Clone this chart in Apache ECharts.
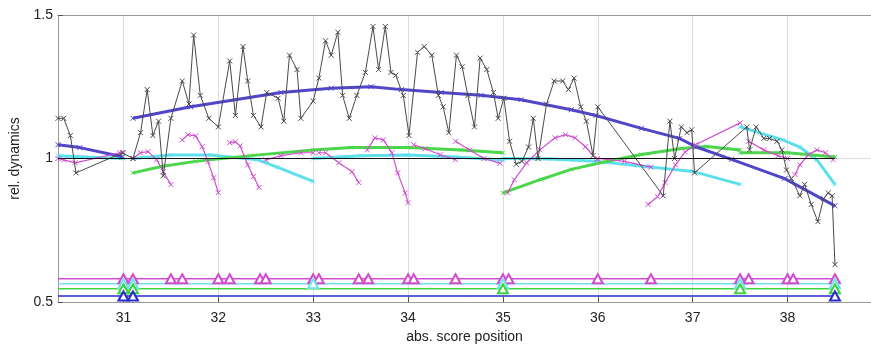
<!DOCTYPE html>
<html>
<head>
<meta charset="utf-8">
<script src="https://cdn.jsdelivr.net/npm/echarts@6/dist/echarts.min.js"></script>
<style>
html, body { margin: 0; padding: 0; background: #fff; }
#chart { width: 871px; height: 349px; }
</style>
</head>
<body>
<div id="chart"></div>
<script>
// axis range
var xMin = 30.31, xMax = 38.88;
var xTicks = [31, 32, 33, 34, 35, 36, 37, 38];

// raw dynamics curve (black, x markers)
var rawCurve = [
  [30.31,1.14],[30.37,1.14],[30.44,1.08],[30.50,0.95],[30.99,1.02],[31.10,1.00],[31.18,1.09],[31.25,1.24],
  [31.31,1.08],[31.37,1.13],[31.42,0.94],[31.50,1.14],[31.62,1.27],[31.69,1.19],[31.74,1.43],[31.81,1.22],
  [31.90,1.14],[32.00,1.11],[32.12,1.34],[32.18,1.15],[32.26,1.39],[32.31,1.27],[32.37,1.15],[32.45,1.11],
  [32.51,1.23],[32.63,1.21],[32.69,1.13],[32.75,1.36],[32.83,1.31],[32.87,1.14],[33.00,1.20],[33.06,1.28],
  [33.13,1.41],[33.19,1.36],[33.26,1.44],[33.31,1.22],[33.38,1.14],[33.46,1.22],[33.55,1.30],[33.63,1.46],
  [33.69,1.31],[33.76,1.46],[33.82,1.30],[33.87,1.29],[33.95,1.22],[34.01,1.08],[34.10,1.37],[34.17,1.39],
  [34.25,1.36],[34.32,1.22],[34.37,1.18],[34.43,1.09],[34.51,1.36],[34.57,1.32],[34.63,1.22],[34.70,1.11],
  [34.76,1.35],[34.83,1.31],[34.90,1.23],[34.95,1.14],[35.01,1.21],[35.07,1.06],[35.14,0.98],[35.20,0.99],
  [35.27,1.04],[35.32,1.14],[35.37,1.00],[35.46,1.19],[35.54,1.27],[35.63,1.27],[35.69,1.24],[35.75,1.28],
  [35.82,1.18],[35.88,1.13],[35.95,1.01],[36.00,1.18],[36.69,0.87],[36.76,1.13],[36.81,1.00],[36.88,1.11],
  [36.94,1.09],[36.99,1.10],[37.02,0.95],[37.57,1.11],[37.60,1.03],[37.67,1.11],[37.75,1.07],[37.81,1.07],
  [37.89,1.06],[37.94,1.03],[37.99,0.96],[38.04,0.93],[38.13,0.87],[38.18,0.91],[38.25,0.84],[38.32,0.78],
  [38.38,0.86],[38.43,0.88],[38.47,0.87],[38.50,0.63]
];

// reference level
var unityLine = [[30.31, 1], [38.5, 1]];

// blue trend
var blueSegs = [
  [[30.31,1.048],[30.54,1.038],[30.99,1.006]],
  [[31.10,1.14],[31.71,1.18],[32.66,1.23],[33.19,1.245],[33.61,1.25],[33.93,1.24],[34.35,1.23],[34.77,1.22],
   [35.19,1.205],[35.72,1.17],[35.98,1.15],[36.46,1.105],[36.86,1.07],[37.04,1.04],[37.41,0.997],[37.97,0.93],[38.5,0.835]]
];

// cyan segments
var cyanSegs = [
  [[30.31,1.01],[30.6,1.005],[31.0,1.0]],
  [[31.1,1.0],[31.5,1.012],[31.92,1.012],[32.41,0.996],[32.62,0.97],[33.0,0.92]],
  [[33.0,1.0],[33.5,1.01],[34.0,1.012],[34.5,1.005],[35.0,0.995]],
  [[35.0,1.0],[35.5,0.998],[35.98,0.99],[36.5,0.972],[37.0,0.955],[37.5,0.91]],
  [[37.5,1.11],[37.7,1.09],[37.95,1.065],[38.13,1.04],[38.31,0.995],[38.5,0.91]]
];

// green segments
var greenSegs = [
  [[31.1,0.95],[31.4,0.972],[31.76,0.99],[32.34,1.01],[33.0,1.03],[33.4,1.038],[34.0,1.038],[34.56,1.03],[35.0,1.02]],
  [[35.0,0.88],[35.4,0.927],[35.72,0.962],[36.04,0.986],[36.46,1.014],[36.88,1.035],[37.15,1.042],[37.5,1.03]],
  [[37.5,1.02],[38.0,1.02],[38.5,1.005]]
];

// magenta segments
var magentaSegs = [
  [[30.31,1.0],[30.37,0.995],[30.49,0.985],[30.96,1.02],[31.0,1.02]],
  [[31.10,1.0],[31.18,1.02],[31.26,1.024],[31.35,0.996],[31.42,0.954],[31.5,0.909]],
  [[31.62,1.065],[31.68,1.083],[31.76,1.079],[31.83,1.041],[31.89,0.989],[31.95,0.933],[32.0,0.881]],
  [[32.12,1.055],[32.18,1.058],[32.23,1.044],[32.31,0.978],[32.37,0.937],[32.43,0.899]],
  [[32.5,0.995],[32.66,1.01],[32.87,1.02],[33.0,1.02]],
  [[33.06,1.02],[33.13,1.02],[33.27,0.985],[33.41,0.954],[33.48,0.916]],
  [[33.57,1.03],[33.65,1.072],[33.74,1.065],[33.83,1.02],[33.89,0.95],[33.97,0.88],[34.0,0.846]],
  [[34.06,1.048],[34.18,1.034],[34.34,1.013],[34.5,0.996]],
  [[34.5,1.06],[34.65,1.03],[34.8,1.0],[34.97,0.983]],
  [[35.05,0.88],[35.12,0.926],[35.25,0.985],[35.39,1.03],[35.55,1.072],[35.66,1.083],[35.76,1.072],[35.87,1.041],[35.99,0.996]],
  [[36.0,1.0],[36.28,0.99],[36.56,0.97]],
  [[36.53,0.84],[36.63,0.867],[36.71,0.916],[36.82,0.978],[36.92,1.023],[37.03,1.048],[37.5,1.124]],
  [[37.59,1.06],[37.75,1.03],[37.9,1.01],[38.0,1.0]],
  [[38.08,0.944],[38.13,0.978],[38.22,1.013],[38.31,1.03],[38.4,1.02],[38.48,0.996]]
];

// segment boundaries drawn as triangles near the bottom
var magentaLevel = 0.581, cyanLevel = 0.564, greenLevel = 0.546, blueLevel = 0.521;
var magentaMarks = [31.0,31.1,31.5,31.62,32.0,32.12,32.44,32.5,33.0,33.06,33.48,33.58,34.0,34.06,34.5,35.0,35.06,36.0,36.56,37.5,37.59,38.0,38.06,38.5];
var cyanMarks = [31.0,31.1,33.0,35.0,37.5,38.5];
var greenMarks = [31.0,31.1,35.0,37.5,38.5];
var blueMarks = [31.0,31.1,38.5];

var xMark = 'path://M0,0L10,10M10,0L0,10';

function curve(data, color, width, size, z) {
  return {
    type: 'line',
    data: data,
    symbol: size ? xMark : 'none',
    symbolSize: size,
    showSymbol: !!size,
    z: z,
    lineStyle: { color: color, width: width },
    itemStyle: { color: 'rgba(0,0,0,0)', borderColor: color, borderWidth: 1 },
    emphasis: { disabled: true },
    silent: true
  };
}

function markRow(marks, level, color) {
  var data = [{ value: [xMin, level], symbol: 'none' }];
  marks.forEach(function (m) { data.push([m, level]); });
  return {
    type: 'line',
    data: data,
    symbol: 'emptyTriangle',
    symbolSize: [10, 9],
    z: 3,
    lineStyle: { color: color, width: 1.5 },
    itemStyle: { color: color, borderColor: color, borderWidth: 1.5 },
    silent: true
  };
}

var series = [];
cyanSegs.forEach(function (s) { series.push(curve(s, '#5ee0ec', 3, 4, 2)); });
greenSegs.forEach(function (s) { series.push(curve(s, '#4cd64c', 3, 4, 2)); });
blueSegs.forEach(function (s) { series.push(curve(s, '#5046c8', 3, 5, 3)); });
magentaSegs.forEach(function (s) { series.push(curve(s, '#d04cd0', 1.2, 5, 4)); });
series.push(curve(rawCurve, '#4a4a4a', 1, 5, 5));
series.push(curve(unityLine, '#111', 1.2, 0, 6));
series.push(markRow(magentaMarks, magentaLevel, '#d24cd2'));
series.push(markRow(cyanMarks, cyanLevel, '#6fe3ef'));
series.push(markRow(greenMarks, greenLevel, '#3ed43e'));
series.push(markRow(blueMarks, blueLevel, '#2a2ad0'));

var chart = echarts.init(document.getElementById('chart'), null, { renderer: 'canvas' });
chart.setOption({
  animation: false,
  backgroundColor: '#fff',
  textStyle: { fontFamily: 'Liberation Sans, Arial, sans-serif' },
  grid: { left: 58, top: 15, right: 0, bottom: 46 },
  xAxis: [{
    type: 'value',
    min: xMin,
    max: xMax,
    name: 'abs. score position',
    nameLocation: 'middle',
    nameGap: 28,
    nameTextStyle: { fontSize: 14, color: '#222' },
    axisLine: { show: true, onZero: false, lineStyle: { color: '#999', width: 1 } },
    axisTick: { show: true, inside: true, length: 5, customValues: xTicks, lineStyle: { color: '#555' } },
    axisLabel: { customValues: xTicks, fontSize: 14, color: '#222', margin: 9 },
    splitLine: { show: true, lineStyle: { color: '#dcdcdc', width: 1 } }
  }, {
    type: 'value',
    position: 'top',
    min: xMin,
    max: xMax,
    axisLine: { show: true, onZero: false, lineStyle: { color: '#999', width: 1 } },
    axisTick: { show: false },
    axisLabel: { show: false },
    splitLine: { show: false }
  }],
  yAxis: {
    type: 'value',
    min: 0.5,
    max: 1.5,
    interval: 0.5,
    name: 'rel. dynamics',
    nameLocation: 'middle',
    nameRotate: 90,
    nameGap: 29,
    nameTextStyle: { fontSize: 14, color: '#222' },
    axisLine: { show: true, onZero: false, lineStyle: { color: '#999', width: 1 } },
    axisTick: { show: true, inside: true, length: 5, lineStyle: { color: '#555' } },
    axisLabel: { fontSize: 14, color: '#222', margin: 5 },
    splitLine: { show: true, lineStyle: { color: '#dcdcdc', width: 1 } }
  },
  series: series
});
</script>
</body>
</html>
